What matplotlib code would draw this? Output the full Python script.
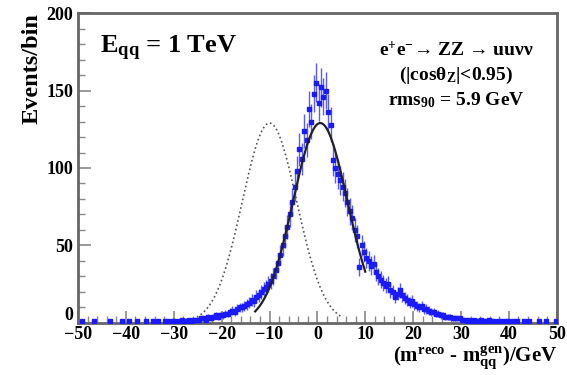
import numpy as np
import matplotlib
matplotlib.use("Agg")
import matplotlib.pyplot as plt
import matplotlib.transforms as mtransforms

plt.rcParams['font.family'] = ['Liberation Serif', 'DejaVu Serif']
plt.rcParams['font.weight'] = 'bold'
plt.rcParams['mathtext.fontset'] = 'custom'
plt.rcParams['mathtext.rm'] = 'Liberation Serif:bold'
plt.rcParams['mathtext.it'] = 'Liberation Serif:bold:italic'
plt.rcParams['mathtext.bf'] = 'Liberation Serif:bold'
plt.rcParams['mathtext.default'] = 'rm'

# histogram: 0.5 GeV bins from -50 to 50 (events per bin)
bin_lo, bin_hi, bin_w = -50.0, 50.0, 0.5
counts = [
    0, 1, 0, 0, 0, 0, 1, 0, 0, 0,           # -50 .. -45
    0, 0, 0, 1, 0, 0, 0, 0, 1, 0,           # -45 .. -40
    0, 1, 0, 0, 1, 0, 0, 0, 1, 0,           # -40 .. -35
    0, 1, 0, 1, 0, 0, 1, 1, 0, 1,           # -35 .. -30
    1, 0, 1, 2, 1, 1, 2, 1, 2, 2,           # -30 .. -25
    2, 3, 3, 2, 4, 3, 4, 5, 4, 5,           # -25 .. -20
    5, 6, 6, 7, 8, 7, 9, 10, 10, 11,        # -20 .. -15
    12, 13, 15, 14, 17, 18, 20, 22, 23, 25,  # -15 .. -10
    27, 30, 34, 39, 44, 50, 56, 62, 70, 78,  # -10 .. -5
    88, 98, 112, 106, 124, 118, 138, 130, 148, 155,  # -5 .. 0
    142, 152, 146, 150, 136, 128, 105, 100, 96, 92,  # 0 .. 5
    88, 84, 78, 72, 68, 60, 56, 36, 50, 46,  # 5 .. 10
    42, 40, 37, 38, 33, 30, 28, 26, 24, 25,  # 10 .. 15
    21, 20, 17, 19, 21, 18, 16, 15, 13, 14,  # 15 .. 20
    12, 11, 10, 11, 9, 9, 8, 7, 7, 6,       # 20 .. 25
    6, 5, 5, 4, 4, 4, 3, 3, 3, 3,           # 25 .. 30
    2, 2, 1, 2, 1, 2, 1, 1, 2, 1,           # 30 .. 35
    1, 2, 1, 1, 0, 1, 1, 0, 1, 1,           # 35 .. 40
    0, 1, 0, 1, 0, 0, 1, 0, 1, 0,           # 40 .. 45
    0, 0, 1, 0, 0, 1, 0, 0, 0, 1,           # 45 .. 50
]

# gaussian fit to the reco distribution, and same shape shifted (reference)
fit_amp, fit_mean, fit_sigma = 129.0, 0.6, 5.7
fit_range = (-13.0, 10.0)
ref_amp, ref_mean, ref_sigma = 129.0, -10.0, 5.7
ref_range = (-26.0, 5.0)

counts = np.array(counts, dtype=float)
centers = np.arange(bin_lo + bin_w / 2, bin_hi, bin_w)
errs = np.sqrt(counts)


def gaus(x, a, m, s):
    return a * np.exp(-0.5 * ((x - m) / s) ** 2)


fig = plt.figure(figsize=(5.67, 3.75), dpi=100)
ax = fig.add_axes([0.1376, 0.1387, 0.8444, 0.8266])

blue = '#1a1aff'
mask = counts > 0
ax.errorbar(centers[mask], counts[mask], yerr=errs[mask], xerr=bin_w / 2,
            fmt='s', ms=2.5, color=blue, ecolor='#5a5aff', elinewidth=1.0,
            capsize=0, zorder=3)

xr = np.linspace(ref_range[0], ref_range[1], 300)
ax.plot(xr, gaus(xr, ref_amp, ref_mean, ref_sigma), ':', color='#555555', lw=1.2, zorder=2)
xf = np.linspace(fit_range[0], fit_range[1], 300)
ax.plot(xf, gaus(xf, fit_amp, fit_mean, fit_sigma), '-', color='#222222', lw=1.6, zorder=4)

ax.set_xlim(-50, 50)
ax.set_ylim(0, 200)
ax.set_xticks(np.arange(-50, 51, 10))
ax.set_xticks(np.arange(-50, 51, 2), minor=True)
ax.set_yticks(np.arange(0, 201, 50))
ax.set_yticks(np.arange(0, 201, 10), minor=True)
ax.tick_params(axis='both', which='both', direction='in', top=False, right=False,
               colors='#888888', labelcolor='black', labelsize=13)
ax.tick_params(which='major', length=9, width=1.2)
ax.tick_params(which='minor', length=5, width=1.0)
ax.tick_params(axis='x', pad=2)
for lbl in ax.get_xticklabels() + ax.get_yticklabels():
    lbl.set_fontweight('bold')
# lift the y "0" a little so it sits above the "-50"
ylbl0 = ax.get_yticklabels()[0]
ylbl0.set_transform(ylbl0.get_transform() +
                    mtransforms.ScaledTranslation(0, 7 / 72, fig.dpi_scale_trans))
for sp in ax.spines.values():
    sp.set_color('#666666')
    sp.set_linewidth(2)

ax.set_ylabel('Events/bin', loc='top', fontsize=17.5, fontweight='bold', labelpad=3)
ax.set_xlabel(r'(m$^{\mathrm{reco}}$ - m$^{\mathrm{gen}}_{\mathrm{qq}}$)/GeV',
              fontsize=15, fontweight='bold', ha='right')
ax.xaxis.set_label_coords(1.0, -0.07)

ax.text(0.045, 0.885, r'E$_{\mathrm{qq}}$ = 1 TeV', transform=ax.transAxes,
        fontsize=19, fontweight='bold', va='center', ha='left')
ax.text(0.79, 0.88, r'e$^{+}$e$^{-}$→ ZZ → uu$\nu\nu$', transform=ax.transAxes,
        fontsize=14, fontweight='bold', va='center', ha='center')
ax.text(0.79, 0.80, r'(|cos$\theta_{Z}$|<0.95)', transform=ax.transAxes,
        fontsize=14, fontweight='bold', va='center', ha='center')
ax.text(0.79, 0.72, r'rms$_{90}$ = 5.9 GeV', transform=ax.transAxes,
        fontsize=14, fontweight='bold', va='center', ha='center')

fig.savefig('out.png', dpi=100)
